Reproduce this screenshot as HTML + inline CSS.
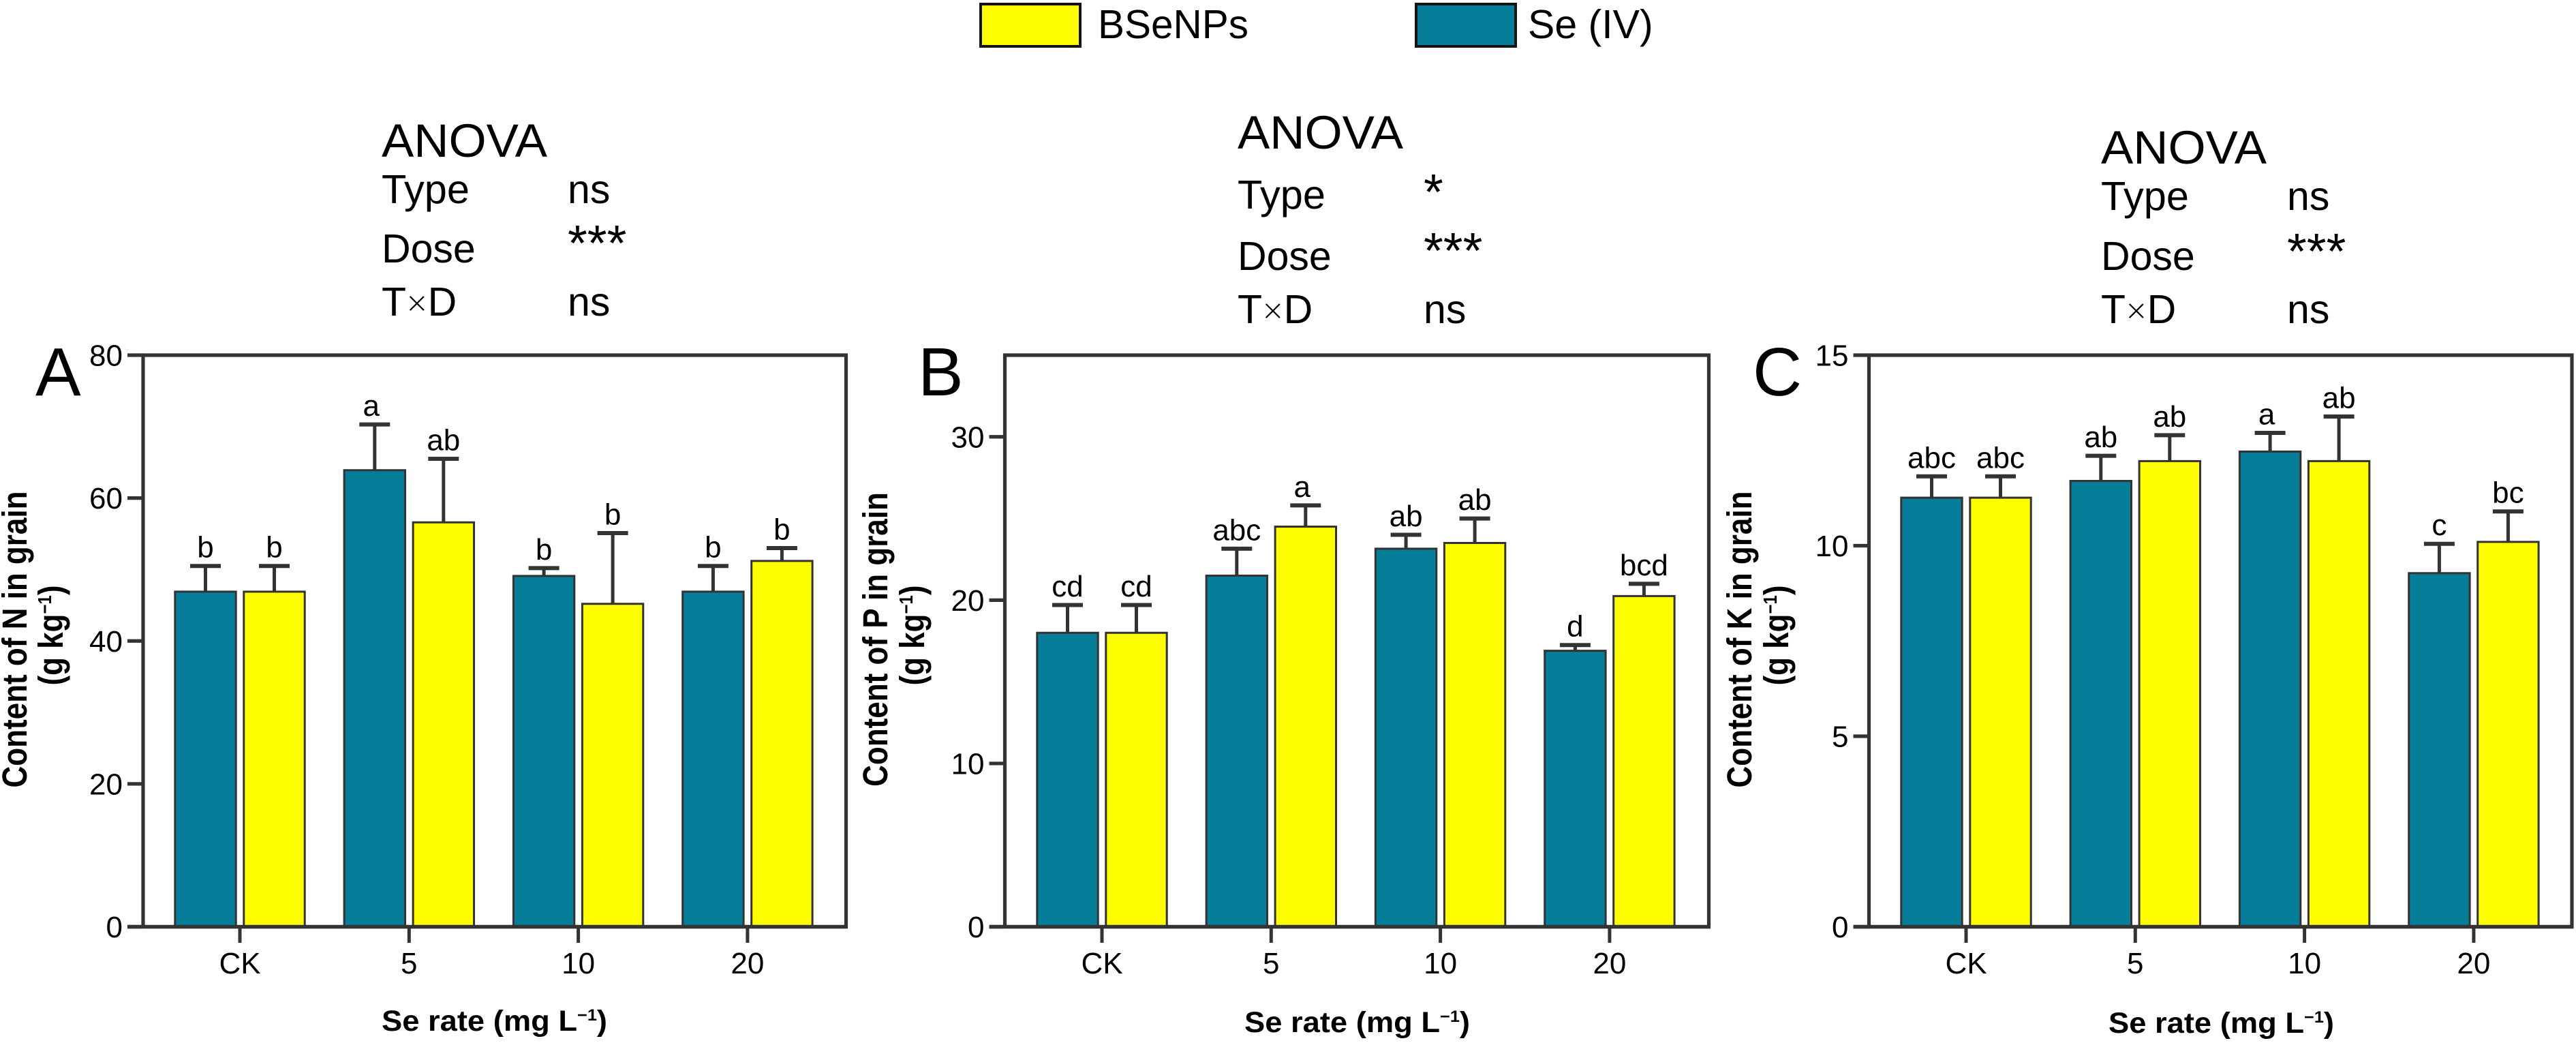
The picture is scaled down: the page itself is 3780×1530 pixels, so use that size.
<!DOCTYPE html>
<html lang="en">
<head>
<meta charset="utf-8">
<title>Content of N, P and K in grain</title>
<style>
html,body{margin:0;padding:0;background:#fff;}
svg{display:block;}
text{font-family:"Liberation Sans",Arial,sans-serif;fill:#000;}
</style>
</head>
<body>
<svg id="figure" xmlns="http://www.w3.org/2000/svg" width="3780" height="1530" viewBox="0 0 3780 1530">
<rect x="0" y="0" width="3780" height="1530" fill="#fff"/>
<g>
<rect x="1439" y="6" width="146" height="62" fill="#ffff00" stroke="#141414" stroke-width="4"/>
<text x="1611" y="56" font-size="59" textLength="221" lengthAdjust="spacingAndGlyphs">BSeNPs</text>
<rect x="2078" y="6" width="146" height="62" fill="#077e99" stroke="#141414" stroke-width="4"/>
<text x="2242" y="56" font-size="59">Se (IV)</text>
</g>
<g font-size="59">
<text x="560" y="230" font-size="69" textLength="243" lengthAdjust="spacingAndGlyphs">ANOVA</text>
<text x="560" y="298" textLength="129" lengthAdjust="spacingAndGlyphs">Type</text>
<text x="833" y="298">ns</text>
<text x="560" y="385">Dose</text>
<text x="833" y="382" font-size="74">***</text>
<text x="560" y="463">T<tspan font-size="54" stroke="#fff" stroke-width="1.6">×</tspan>D</text>
<text x="833" y="463">ns</text>
</g>
<g font-size="59">
<text x="1816" y="218" font-size="69" textLength="243" lengthAdjust="spacingAndGlyphs">ANOVA</text>
<text x="1816" y="306" textLength="129" lengthAdjust="spacingAndGlyphs">Type</text>
<text x="2089" y="307" font-size="74">*</text>
<text x="1816" y="396">Dose</text>
<text x="2089" y="393" font-size="74">***</text>
<text x="1816" y="474">T<tspan font-size="54" stroke="#fff" stroke-width="1.6">×</tspan>D</text>
<text x="2089" y="474">ns</text>
</g>
<g font-size="59">
<text x="3083" y="240" font-size="69" textLength="243" lengthAdjust="spacingAndGlyphs">ANOVA</text>
<text x="3083" y="308" textLength="129" lengthAdjust="spacingAndGlyphs">Type</text>
<text x="3356" y="308">ns</text>
<text x="3083" y="396">Dose</text>
<text x="3356" y="394" font-size="74">***</text>
<text x="3083" y="474">T<tspan font-size="54" stroke="#fff" stroke-width="1.6">×</tspan>D</text>
<text x="3356" y="474">ns</text>
</g>
<text x="52" y="580" font-size="100">A</text>
<text x="1347" y="580" font-size="100">B</text>
<text x="2572" y="580" font-size="100">C</text>

<g font-size="44" font-weight="700" text-anchor="middle">
<text transform="translate(39,938) rotate(-90) scale(1,1.15)">Content of N in grain</text>
<text transform="translate(92,932) rotate(-90) scale(1,1.15)">(g kg<tspan dy="-15" font-size="24">−1</tspan><tspan dy="15">)</tspan></text>
</g>
<g font-size="44" font-weight="700" text-anchor="middle">
<text transform="translate(1302,938) rotate(-90) scale(1,1.15)">Content of P in grain</text>
<text transform="translate(1356,932) rotate(-90) scale(1,1.15)">(g kg<tspan dy="-15" font-size="24">−1</tspan><tspan dy="15">)</tspan></text>
</g>
<g font-size="44" font-weight="700" text-anchor="middle">
<text transform="translate(2570,938) rotate(-90) scale(1,1.15)">Content of K in grain</text>
<text transform="translate(2624,932) rotate(-90) scale(1,1.15)">(g kg<tspan dy="-15" font-size="24">−1</tspan><tspan dy="15">)</tspan></text>
</g>
<text x="560" y="1512" font-size="43" font-weight="700" textLength="331" lengthAdjust="spacingAndGlyphs">Se rate (mg L<tspan dy="-15" font-size="24">−1</tspan><tspan dy="15">)</tspan></text>
<text x="1826" y="1514" font-size="43" font-weight="700" textLength="331" lengthAdjust="spacingAndGlyphs">Se rate (mg L<tspan dy="-15" font-size="24">−1</tspan><tspan dy="15">)</tspan></text>
<text x="3094" y="1515" font-size="43" font-weight="700" textLength="331" lengthAdjust="spacingAndGlyphs">Se rate (mg L<tspan dy="-15" font-size="24">−1</tspan><tspan dy="15">)</tspan></text>
</svg>
<script>
const categories = ['CK', '5', '10', '20'];

const nSeIV = [46.9, 63.9, 49.1, 46.9];
const nSeIVErr = [3.6, 6.4, 1.1, 3.6];
const nSeIVLetters = ['b', 'a', 'b', 'b'];
const nBSeNPs = [46.9, 56.6, 45.2, 51.2];
const nBSeNPsErr = [3.6, 8.9, 9.9, 1.8];
const nBSeNPsLetters = ['b', 'ab', 'b', 'b'];
const nTicks = [0, 20, 40, 60, 80];

const pSeIV = [18.0, 21.5, 23.15, 16.9];
const pSeIVErr = [1.7, 1.65, 0.85, 0.35];
const pSeIVLetters = ['cd', 'abc', 'ab', 'd'];
const pBSeNPs = [18.0, 24.5, 23.5, 20.25];
const pBSeNPsErr = [1.7, 1.3, 1.5, 0.75];
const pBSeNPsLetters = ['cd', 'a', 'ab', 'bcd'];
const pTicks = [0, 10, 20, 30];

const kSeIV = [11.26, 11.7, 12.47, 9.28];
const kSeIVErr = [0.56, 0.66, 0.49, 0.77];
const kSeIVLetters = ['abc', 'ab', 'a', 'c'];
const kBSeNPs = [11.26, 12.22, 12.22, 10.1];
const kBSeNPsErr = [0.56, 0.68, 1.17, 0.8];
const kBSeNPsLetters = ['abc', 'ab', 'ab', 'bc'];
const kTicks = [0, 5, 10, 15];

const SVG_NS = 'http://www.w3.org/2000/svg';
const figure = document.getElementById('figure');

function make(tag, attrs, parent) {
  const node = document.createElementNS(SVG_NS, tag);
  Object.keys(attrs).forEach(function (k) { node.setAttribute(k, attrs[k]); });
  parent.appendChild(node);
  return node;
}

function drawSeries(group, panel, id, values, errors, letters, xOf, yOf, fill) {
  values.forEach(function (v, i) {
    const cx = xOf(i);
    const top = yOf(v);
    const capY = yOf(v + errors[i]);
    const whisker = make('line', { x1: cx, x2: cx, y1: top, y2: capY, stroke: '#333', 'stroke-width': 5 }, group);
    
    
    const cap = make('line', { x1: cx - 22.5, x2: cx + 22.5, y1: capY, y2: capY, stroke: '#333', 'stroke-width': 6 }, group);
    
    
    const bar = make('rect', { x: cx - 44.7, y: top, width: 89.4, height: yOf(0) - top, fill: fill, stroke: '#333', 'stroke-width': 3 }, group);
    
    
    const letterShift = letters[i] === 'a' ? -5 : 0;
    const letter = make('text', { x: cx + letterShift, y: capY - 12.5, 'font-size': 44, 'text-anchor': 'middle' }, group);
    letter.textContent = letters[i];
    
    
  });
}

function drawPanel(panel, frame, domainMax, ticks, seIV, seIVErr, seIVLetters, bse, bseErr, bseLetters) {
  const yOf = function (v) { return frame.bottom - (v / domainMax) * (frame.bottom - frame.top); };
  const xOf = function (i) { return frame.firstCenter + i * frame.step; };
  const group = make('g', {}, figure);
  
  

  drawSeries(group, panel, 'se-iv', seIV, seIVErr, seIVLetters, function (i) { return xOf(i) - 50.5; }, yOf, '#077e99');
  drawSeries(group, panel, 'bsenps', bse, bseErr, bseLetters, function (i) { return xOf(i) + 50.5; }, yOf, '#ffff00');

  const plotFrame = make('path', {
    d: 'M' + frame.left + ' ' + frame.bottom + 'V' + frame.top + 'H' + frame.right + 'V' + frame.bottom,
    fill: 'none', stroke: '#333', 'stroke-width': 5.2
  }, group);
  
  

  const xAxis = make('line', { x1: frame.left - 23, x2: frame.right + 2.5, y1: frame.bottom, y2: frame.bottom, stroke: '#333', 'stroke-width': 5.5 }, group);
  
  

  ticks.forEach(function (t) {
    const y = yOf(t);
    const mark = make('line', { x1: frame.left - 23, x2: frame.left, y1: y, y2: y, stroke: '#333', 'stroke-width': 5.2 }, group);
    
    
    const label = make('text', { x: frame.left - 30, y: y + 15.5, 'font-size': 44, 'text-anchor': 'end' }, group);
    label.textContent = String(t);
    
    
  });

  categories.forEach(function (c, i) {
    const x = xOf(i);
    const mark = make('line', { x1: x, x2: x, y1: frame.bottom, y2: frame.bottom + 23.5, stroke: '#333', 'stroke-width': 5 }, group);
    
    
    const label = make('text', { x: x, y: 1428, 'font-size': 44, 'text-anchor': 'middle' }, group);
    label.textContent = c;
    
    
  });
}

drawPanel('a', { left: 210, right: 1241.5, top: 521, bottom: 1359.5, firstCenter: 352, step: 248.3 }, 80, nTicks, nSeIV, nSeIVErr, nSeIVLetters, nBSeNPs, nBSeNPsErr, nBSeNPsLetters);
drawPanel('b', { left: 1474.5, right: 2507.5, top: 521, bottom: 1359.5, firstCenter: 1617, step: 248.3 }, 35, pTicks, pSeIV, pSeIVErr, pSeIVLetters, pBSeNPs, pBSeNPsErr, pBSeNPsLetters);
drawPanel('c', { left: 2742.5, right: 3774, top: 521, bottom: 1359.5, firstCenter: 2885, step: 248.3 }, 15, kTicks, kSeIV, kSeIVErr, kSeIVLetters, kBSeNPs, kBSeNPsErr, kBSeNPsLetters);
</script>
</body>
</html>
